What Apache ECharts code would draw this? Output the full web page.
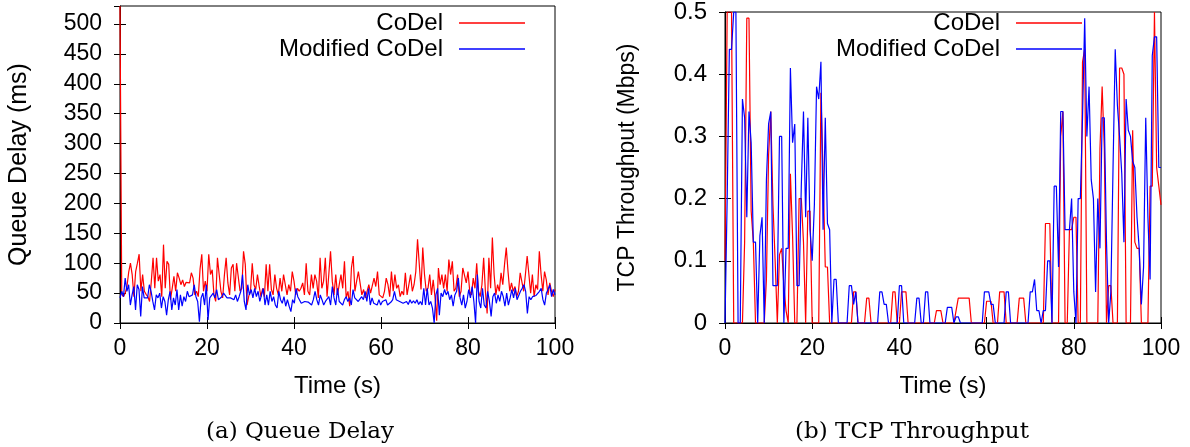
<!DOCTYPE html>
<html><head><meta charset="utf-8">
<script src="https://cdn.jsdelivr.net/npm/echarts@6/dist/echarts.min.js"></script>
<style>html,body{margin:0;padding:0;background:#fff;}#c{width:1190px;height:447px;}</style>
</head><body><div id="c"></div>
<script>
// ---- data ----
const timeStart = 0;
const timeEnd = 100;
const xTicks = [0, 20, 40, 60, 80, 100];
const seriesNames = ['CoDel', 'Modified CoDel'];
const captions = ['(a) Queue Delay', '(b) TCP Throughput'];

// Queue delay (ms), evenly spaced samples over 0..100 s
const delayCoDel = [
530,48,44,50,61,85,100,81,44,86,100,115,53,81,53,48,44,36,70,109,
58,109,70,81,44,131,58,103,98,39,58,78,53,84,75,64,72,61,68,70,
67,84,75,47,53,44,90,115,53,70,53,115,81,89,47,36,109,81,53,42,
80,109,67,47,92,98,53,100,103,53,58,120,98,30,45,53,100,64,56,81,
61,44,
58,44,98,53,98,56,47,81,58,47,75,53,81,78,47,64,53,86,70,47,
58,53,58,67,47,100,53,47,81,58,81,70,42,109,58,70,109,44,81,120,
70,47,81,47,64,81,58,103,42,53,28,92,112,53,70,86,84,47,56,42,
53,64,50,53,75,61,86,47,50,42,53,75,64,44,86,53,81,58,64,44,53,47,
84,47,44,81,53,64,86,140,98,56,126,81,53,58,81,47,72,44,4,92,
64,81,58,81,53,106,81,103,53,58,81,44,53,92,89,67,86,53,47,75,
58,100,53,44,64,109,53,16,109,58,143,81,47,64,53,84,64,98,126,86,
53,67,53,61,44,53,84,81,53,81,112,81,50,81,44,64,56,120,81,53,
86,72,47,67,53,44,56
];
const delayModified = [
42,53,44,75,53,64,30,47,61,22,64,56,11,61,42,44,42,64,53,36,
22,47,42,50,25,44,36,13,39,53,22,42,30,56,22,47,28,44,36,53,
44,42,47,64,44,36,2,42,50,30,64,5,42,44,50,42,56,39,42,44,
50,47,42,44,42,44,39,47,36,44,53,81,36,22,64,47,56,42,58,44,
53,36,39,58,30,
47,30,53,36,44,30,25,53,39,33,44,28,39,28,19,39,33,58,44,42,
33,30,36,33,35,33,30,39,53,39,30,47,39,30,36,39,44,30,61,42,
30,58,36,39,30,39,44,36,42,30,56,42,44,36,33,44,39,53,36,58,
30,42,33,36,30,39,30,36,33,39,30,33,35,39,53,39,42,36,39,33,
33,36,31,39,33,37,33,39,31,36,30,58,30,58,30,36,25,0,47,58,
13,50,44,56,47,53,39,47,28,47,53,75,42,30,47,25,36,56,42,61,
36,0,81,36,25,58,30,25,53,36,11,44,50,33,47,36,53,44,28,50,
30,42,56,42,58,39,42,53,58,64,53,16,44,39,44,44,46,47,53,58,
39,30,50,56,64,44,56,47
];

// TCP throughput (Mbps), samples every 0.5 s over 0..100 s
const thrCoDel = [
0.10,0.5,0.5,0.5,0,0,0,0,0,0.13,
0.49,0.49,0.18,0.13,0,0,0,0,0,0.07,
0.27,0.34,0.19,0.1,0,0.11,0.12,0.06,0.02,0,
0.24,0.14,0,0,0.2,0.2,0.13,0,0.18,0.18,
0,0,0,0,0.37,0.24,0.09,0.09,0,0,
0,0,0,0,0,0,0,0,0,0.05,
0.05,0,0,0,0,0.04,0.04,0,0,0,
0,0,0,0,0,0,0,0.05,0.05,0,
0,0.05,0.05,0.05,0,0,0,0,0,0,
0,0,0,0,0,0,0,0.02,0.02,0.02,
0,0,0,0,0,0,0.02,0.04,0.04,0.04,
0.04,0.04,0.04,0,0,0,0,0,0,0,
0.035,0.035,0.035,0,0,0,0.05,0.05,0.05,0,
0,0,0,0,0,0.04,0.04,0.04,0,0,
0,0,0,0,0,0,0,0.16,0.16,0.16,
0,0,0,0,0.3,0.34,0,0,0.15,0.15,
0.17,0.17,0,0,0.42,0.44,0,0,0,0,
0,0,0.28,0.38,0.28,0,0.06,0.06,0,0,
0,0.41,0.41,0.4,0,0,0,0.31,0.13,0.12,
0.12,0,0,0,0,0.22,0.22,0.5,0.25,0.22,
0.19
];
const thrModified = [
0,0.2,0.44,0.44,0.5,0.5,0,0,0.36,0.33,
0.17,0.34,0.29,0.13,0.13,0,0.14,0.17,0,0.23,
0.32,0.34,0.06,0.06,0.06,0.3,0.3,0,0.12,0.12,
0.41,0.29,0.32,0.06,0.06,0.22,0.34,0.17,0.33,0.15,
0.1,0.19,0.38,0.36,0.42,0.15,0.33,0.16,0.15,0,
0.07,0.07,0,0,0,0,0,0.06,0.06,0.03,
0.05,0,0,0,0,0,0,0,0,0,
0,0.05,0.05,0.03,0.03,0,0,0,0,0,
0.06,0.06,0,0,0,0,0,0,0.04,0.04,
0,0,0.05,0.05,0,0,0,0,0,0,
0,0,0.025,0.025,0.025,0,0.01,0.01,0,0,
0,0,0,0,0,0,0,0,0,0.05,
0.05,0.05,0.03,0.03,0,0,0,0,0,0.05,
0.05,0,0,0,0,0,0,0,0,0,
0.05,0.05,0.07,0.02,0.02,0,0.02,0.02,0.1,0.1,
0,0.22,0.22,0.09,0.34,0.34,0.15,0.15,0.15,0.2,
0.05,0,0.2,0.2,0.33,0.49,0.3,0.38,0.23,0.2,
0.05,0.2,0.12,0.33,0.33,0.13,0,0.05,0.25,0.44,
0.35,0.3,0.24,0.13,0.36,0.31,0.3,0.26,0.25,0.17,
0.12,0.03,0.09,0.33,0.17,0.07,0.43,0.46,0.46,0.25,
0.25
];

// ---- build ----
function pairs(vals) {
  const n = vals.length;
  return vals.map((v, i) => [timeStart + (timeEnd - timeStart) * i / (n - 1), v]);
}
const SANS = 'Liberation Sans, Arial, Helvetica, sans-serif';
const SERIF = 'DejaVu Serif, Liberation Serif, serif';
const RED = '#ff0000', BLUE = '#0000ff';

function xAx(gi, main) {
  return {
    type: 'value', gridIndex: gi, min: 0, max: 100, interval: 20,
    position: main ? 'bottom' : 'top',
    name: main ? 'Time (s)' : '', nameLocation: 'middle', nameGap: 51,
    nameTextStyle: { fontFamily: SANS, fontSize: 24, color: '#000' },
    axisLine: { show: main, lineStyle: { color: '#000', width: 1 } },
    axisTick: { show: true, inside: true, length: 6, lineStyle: { color: '#000' } },
    axisLabel: { show: main, fontFamily: SANS, fontSize: 23, color: '#000', margin: 14 },
    splitLine: { show: false }
  };
}
function yAx(gi, main, max, interval, name, nameSize, nameGap, labelSize, showMax) {
  return {
    type: 'value', gridIndex: gi, min: 0, max: max, interval: interval,
    position: main ? 'left' : 'right',
    name: main ? name : '', nameLocation: 'middle', nameGap: nameGap, nameRotate: 90,
    nameTextStyle: { fontFamily: SANS, fontSize: nameSize, color: '#000' },
    axisLine: { show: main, lineStyle: { color: '#000', width: 1 } },
    axisTick: { show: true, inside: true, length: 6, lineStyle: { color: '#000' } },
    axisLabel: { show: main, fontFamily: SANS, fontSize: labelSize, color: '#000', margin: 18,
      showMaxLabel: showMax },
    splitLine: { show: false }
  };
}
function legendItem(name, color, right, top) {
  return {
    show: true, orient: 'vertical', right: right, top: top, align: 'right',
    icon: 'rect', itemWidth: 66, itemHeight: 1.5, selectedMode: false, padding: 0,
    data: [{ name: name, itemStyle: { color: color } }],
    textStyle: { fontFamily: SANS, fontSize: 24, color: '#000', padding: [0, 11, 0, 0] }
  };
}
function line(name, color, xi, yi, vals) {
  return {
    type: 'line', name: name, xAxisIndex: xi, yAxisIndex: yi, data: pairs(vals),
    showSymbol: false, symbol: 'none', lineStyle: { color: color, width: 1.2 },
    itemStyle: { color: color }, animation: false, clip: true
  };
}

const chart = echarts.init(document.getElementById('c'), null, { renderer: 'canvas' });
chart.setOption({
  backgroundColor: '#fff',
  animation: false,
  grid: [
    { left: 120, top: 6, width: 435, height: 317, show: true, borderColor: '#000', borderWidth: 1, backgroundColor: 'transparent' },
    { left: 725, top: 6, width: 436, height: 317, show: true, borderColor: '#000', borderWidth: 1, backgroundColor: 'transparent' }
  ],
  xAxis: [xAx(0, true), xAx(1, true), xAx(0, false), xAx(1, false)],
  yAxis: [
    yAx(0, true, 530, 50, 'Queue Delay (ms)', 25, 88, 23, false),
    yAx(1, true, 0.5, 0.1, 'TCP Throughput (Mbps)', 23, 86, 24, true),
    yAx(0, false, 530, 50, '', 25, 88, 23, false),
    yAx(1, false, 0.5, 0.1, '', 23, 86, 24, true)
  ],
  legend: [
    legendItem(seriesNames[0], RED, 665, 11),
    legendItem(seriesNames[1], BLUE, 665, 37),
    legendItem(seriesNames[0], RED, 108, 11),
    legendItem(seriesNames[1], BLUE, 108, 37)
  ],
  series: [
    line(seriesNames[0], RED, 0, 0, delayCoDel),
    line(seriesNames[1], BLUE, 0, 0, delayModified),
    line(seriesNames[0], RED, 1, 1, thrCoDel),
    line(seriesNames[1], BLUE, 1, 1, thrModified)
  ],
  graphic: [
    { type: 'text', x: 300, y: 432, style: { text: captions[0], font: '23px ' + SERIF, fill: '#000', textAlign: 'center', textVerticalAlign: 'middle' } },
    { type: 'text', x: 912, y: 432, style: { text: captions[1], font: '23px ' + SERIF, fill: '#000', textAlign: 'center', textVerticalAlign: 'middle' } }
  ]
});
</script>
</body></html>
